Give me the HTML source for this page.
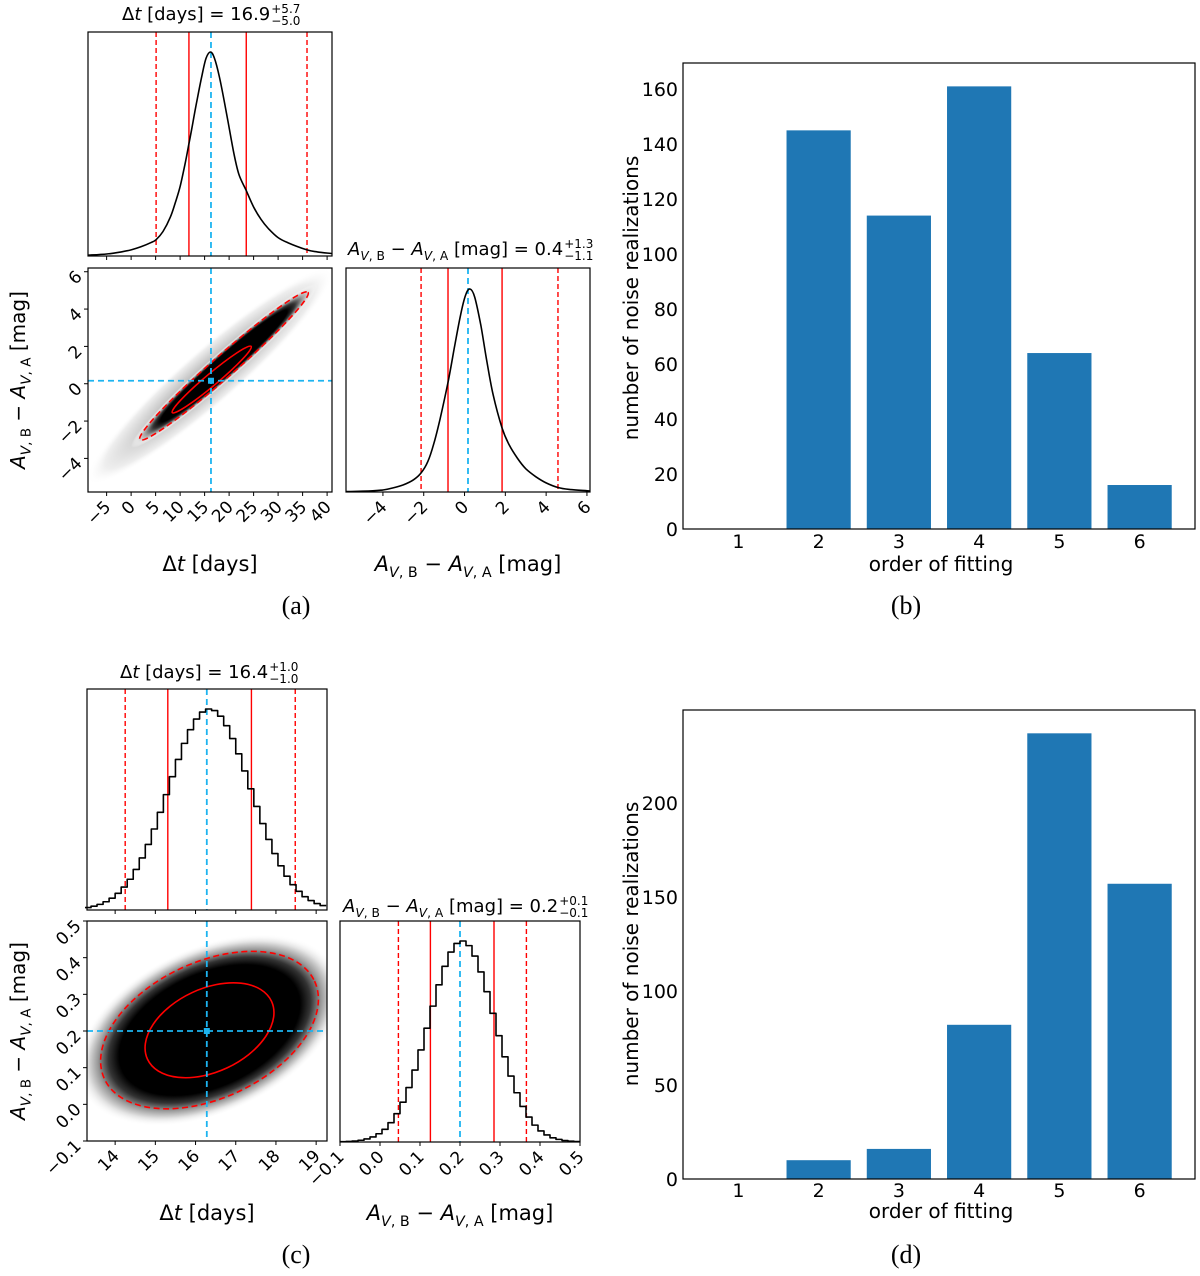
<!DOCTYPE html>
<html><head><meta charset="utf-8"><style>
html,body{margin:0;padding:0;background:#fff;}
svg{display:block;font-family:"DejaVu Sans","Liberation Sans",sans-serif;}
</style></head><body>
<svg id="fig" width="1200" height="1276" viewBox="0 0 1200 1276" xmlns="http://www.w3.org/2000/svg">
<defs>
<radialGradient id="dens" cx="0.5" cy="0.5" r="0.5">
<stop offset="0" stop-color="#000"/><stop offset="0.68" stop-color="#000"/><stop offset="0.76" stop-color="#333"/><stop offset="0.84" stop-color="#999"/><stop offset="0.92" stop-color="#e2e2e2"/><stop offset="1" stop-color="#fff" stop-opacity="0"/>
</radialGradient>
<radialGradient id="halo" cx="0.5" cy="0.5" r="0.5">
<stop offset="0" stop-color="#999"/><stop offset="0.5" stop-color="#c8c8c8"/><stop offset="0.85" stop-color="#eee"/><stop offset="1" stop-color="#fff" stop-opacity="0"/>
</radialGradient>
</defs>
</svg>
<script>
// ---- bar chart data ----
const barCats = [1, 2, 3, 4, 5, 6];
const barValsB = [0, 145, 114, 161, 64, 16];
const barValsD = [0, 10, 16, 82, 237, 157];
const ticksB = [0, 20, 40, 60, 80, 100, 120, 140, 160];
const ticksD = [0, 50, 100, 150, 200];
// ---- panel (a) data ----
const aDtX = [-8.8, -5, -2, 0, 2, 4, 5.1, 6.5, 8, 9, 10, 11, 11.8, 12.5, 13.5, 14.5, 15.3, 16.2, 17, 18, 19, 20, 21, 22, 23.5, 25, 26.5, 28, 30, 32, 35.9, 38, 41];
const aDtY = [0.004, 0.01, 0.02, 0.03, 0.045, 0.065, 0.08, 0.12, 0.19, 0.26, 0.34, 0.45, 0.55, 0.64, 0.77, 0.89, 0.97, 1.0, 0.97, 0.88, 0.76, 0.63, 0.5, 0.4, 0.32, 0.24, 0.18, 0.135, 0.09, 0.065, 0.03, 0.02, 0.012];
const aMagX = [-5.8, -4.5, -4, -3.5, -3, -2.5, -2.13, -1.8, -1.5, -1.2, -0.81, -0.5, -0.2, 0.05, 0.27, 0.5, 0.8, 1.1, 1.4, 1.84, 2.2, 2.6, 3, 3.5, 4, 4.58, 5.2, 6.15];
const aMagY = [0.002, 0.006, 0.01, 0.02, 0.035, 0.06, 0.094, 0.15, 0.24, 0.36, 0.54, 0.71, 0.87, 0.97, 1.0, 0.96, 0.82, 0.64, 0.48, 0.315, 0.23, 0.165, 0.115, 0.075, 0.045, 0.022, 0.012, 0.005];
const aDtQuant = [5.1, 11.8, 16.3, 23.5, 35.9];
const aMagQuant = [-2.13, -0.81, 0.17, 1.84, 4.58];
const aCenter = [16.3, 0.16];
const aOuter = [[1.8, -3.0], [36.1, 4.9]];
const aInner = [[8.4, -1.55], [24.5, 2.0]];
const aHalo = [[-8.8, -5.3], [41, 6.1]];
const aTicksDt = [-5, 0, 5, 10, 15, 20, 25, 30, 35, 40];
const aTicksMag = [-4, -2, 0, 2, 4, 6];
// ---- panel (c) data ----
const cDtStart = 13.25, cDtBin = 0.15;
const cDtHist = [0.012,0.019,0.028,0.041,0.059,0.083,0.114,0.153,0.202,0.259,0.326,0.403,0.486,0.574,0.663,0.749,0.829,0.897,0.950,0.985,1.0,0.992,0.964,0.917,0.853,0.777,0.692,0.603,0.515,0.430,0.351,0.281,0.220,0.168,0.126,0.093,0.066,0.047,0.032,0.022];
const cMagStart = -0.1, cMagBin = 0.015;
const cMagHist = [0.0014,0.0027,0.0049,0.0087,0.015,0.025,0.041,0.063,0.096,0.141,0.198,0.271,0.358,0.458,0.566,0.676,0.782,0.874,0.945,0.988,1.0,0.977,0.925,0.846,0.748,0.640,0.529,0.424,0.328,0.245,0.177,0.124,0.084,0.055,0.035,0.021,0.013,0.0072,0.004,0.002];
const cDtQuant = [14.25, 15.31, 16.28, 17.39, 18.48];
const cMagQuant = [0.046, 0.126, 0.2, 0.285, 0.366];
const cCenter = [16.28, 0.2];
const cOuter = [[13.735, 0.069], [18.96, 0.336]];
const cInner = [[14.805, 0.123], [17.89, 0.281]];
const cTicksDt = [14, 15, 16, 17, 18, 19];
const cTicksMag = [-0.1, 0, 0.1, 0.2, 0.3, 0.4, 0.5];

const NS = 'http://www.w3.org/2000/svg';
const svg = document.getElementById('fig');
function mk(tag, attrs, parent, name) {
  const el = document.createElementNS(NS, tag);
  for (const k in attrs) el.setAttribute(k, attrs[k]);
  
  
  (parent || svg).appendChild(el);
  return el;
}
function lin(d0, d1, p0, p1) { return v => p0 + (v - d0) / (d1 - d0) * (p1 - p0); }
function fmt(v) { return (v < 0 ? '\u2212' : '') + Math.abs(v); }
function fmt1(v) { return (v < 0 ? '\u2212' : '') + Math.abs(v).toFixed(1); }
const RED = '#ff0000', BLUE = '#1db4f0';

// ---- bar charts ----
function barChart(box, xlim, ylim, cats, vals, ticks, id, ylabY, xtY, xlabY) {
  const g = mk('g', {}, svg, 'bar-chart-' + id);
  const xs = lin(xlim[0], xlim[1], box.x0, box.x1);
  const ys = lin(ylim[0], ylim[1], box.y1, box.y0);
  cats.forEach((c, i) => {
    const x0 = xs(c - 0.4), x1 = xs(c + 0.4), y = ys(vals[i]);
    mk('rect', {x: x0, y: y, width: x1 - x0, height: Math.max(0, box.y1 - y), fill: '#1f77b4'}, g, 'bar-order-' + c);
    const t = mk('text', {x: xs(c), y: xtY, 'text-anchor': 'middle', 'font-size': 19}, g, 'x-tick-label');
    t.textContent = c;
  });
  ticks.forEach(v => {
    const t = mk('text', {x: box.x0 - 5, y: ys(v) + 7, 'text-anchor': 'end', 'font-size': 19}, g, 'y-tick-label');
    t.textContent = v;
  });
  mk('rect', {x: box.x0, y: box.y0, width: box.x1 - box.x0, height: box.y1 - box.y0, fill: 'none', stroke: '#000', 'stroke-width': 1.2}, g, 'plot-frame');
  const yl = mk('text', {transform: `translate(${box.x0 - 45},${ylabY}) rotate(-90)`, 'text-anchor': 'middle', 'font-size': 20}, g, 'y-axis-title');
  yl.textContent = 'number of noise realizations';
  const xl = mk('text', {x: 941, y: xlabY, 'text-anchor': 'middle', 'font-size': 20}, g, 'x-axis-title');
  xl.textContent = 'order of fitting';
}
barChart({x0: 683, x1: 1195, y0: 63, y1: 529}, [0.31, 6.69], [0, 169.5], barCats, barValsB, ticksB, 'b', 298, 548, 571);
barChart({x0: 683, x1: 1195, y0: 710, y1: 1179}, [0.31, 6.69], [0, 249.4], barCats, barValsD, ticksD, 'd', 944, 1197, 1218);

// ---- corner helpers ----
function frame(box, g) {
  mk('rect', {x: box.x0, y: box.y0, width: box.x1 - box.x0, height: box.y1 - box.y0, fill: 'none', stroke: '#000', 'stroke-width': 1.2}, g, 'plot-frame');
}
function vlines(box, xs, q, g) {
  q.forEach((v, i) => {
    const x = xs(v);
    const col = i === 2 ? BLUE : RED;
    const dash = (i === 0 || i === 4) ? '5,3' : (i === 2 ? '6,4' : 'none');
    mk('line', {x1: x, x2: x, y1: box.y0, y2: box.y1, stroke: col, 'stroke-width': i === 2 ? 1.8 : 1.4, 'stroke-dasharray': dash}, g, i === 2 ? 'median-line' : (dash === 'none' ? 'one-sigma-line' : 'two-sigma-line'));
  });
}
function xticks(box, xs, ticks, g, labels, f) {
  ticks.forEach(v => {
    const x = xs(v);
    mk('line', {x1: x, x2: x, y1: box.y1, y2: box.y1 + 4, stroke: '#000', 'stroke-width': 1}, g, 'x-tick');
    if (labels) {
      const t = mk('text', {x: x + 5, y: box.y1 + 16, 'text-anchor': 'end', 'font-size': 17, transform: `rotate(-45 ${x + 5} ${box.y1 + 16})`}, g, 'x-tick-label');
      t.textContent = f(v);
    }
  });
}
function yticks(box, ys, ticks, g, f) {
  ticks.forEach(v => {
    const y = ys(v);
    mk('line', {x1: box.x0 - 4, x2: box.x0, y1: y, y2: y, stroke: '#000', 'stroke-width': 1}, g, 'y-tick');
    const t = mk('text', {x: box.x0 - 5, y: y + 6, 'text-anchor': 'end', 'font-size': 17, transform: `rotate(-45 ${box.x0 - 5} ${y + 6})`}, g, 'y-tick-label');
    t.textContent = f(v);
  });
}
function magLabel(s) {
  const sub = s * 0.68, d = s * 0.28;
  return `<tspan font-style="italic">A</tspan><tspan font-size="${sub}" dy="${d}"><tspan font-style="italic">V</tspan>, B</tspan><tspan dy="${-d}"> \u2212 </tspan><tspan font-style="italic">A</tspan><tspan font-size="${sub}" dy="${d}"><tspan font-style="italic">V</tspan>, A</tspan><tspan dy="${-d}"> [mag]</tspan>`;
}
function title(g, x, y, html, sup, sub, name) {
  const t = mk('text', {x: x, y: y, 'font-size': 18}, g, name);
  t.innerHTML = html;
  const sx = x + t.getComputedTextLength() + 1;
  const a = mk('text', {x: sx, y: y - 7, 'font-size': 12}, g, name + '-upper-error');
  a.textContent = sup;
  const b = mk('text', {x: sx, y: y + 5, 'font-size': 12}, g, name + '-lower-error');
  b.textContent = sub;
}
function ellipseFromAxis(g, xs, ys, ends, minor, attrs, name) {
  const x1 = xs(ends[0][0]), y1 = ys(ends[0][1]), x2 = xs(ends[1][0]), y2 = ys(ends[1][1]);
  const cx = (x1 + x2) / 2, cy = (y1 + y2) / 2;
  const a = Math.hypot(x2 - x1, y2 - y1) / 2;
  const ang = Math.atan2(y2 - y1, x2 - x1) * 180 / Math.PI;
  const at = Object.assign({cx: cx, cy: cy, rx: a, ry: minor, transform: `rotate(${ang} ${cx} ${cy})`}, attrs);
  return mk('ellipse', at, g, name);
}
function corner(P) {
  const g = mk('g', {}, svg, 'corner-plot-' + P.id);
  const gt = mk('g', {}, g, 'delta-t-histogram');
  const xsT = lin(P.xlimT[0], P.xlimT[1], P.top.x0, P.top.x1);
  const fT = v => P.top.y1 - v * P.hT;
  vlines(P.top, xsT, P.qT, gt);
  mk('path', {d: P.pathT(xsT, fT), fill: 'none', stroke: '#000', 'stroke-width': 1.6, 'stroke-linejoin': 'round'}, gt, 'delta-t-curve');
  frame(P.top, gt);
  xticks(P.top, xsT, P.ticksT, gt, false);
  title(gt, P.tTitle[0], P.tTitle[1], '<tspan>\u0394</tspan><tspan font-style="italic">t</tspan> [days] = ' + P.tVal, P.tErr[0], P.tErr[1], 'delta-t-title');
  const gs = mk('g', {}, g, 'joint-density');
  const sb = P.sc;
  const ysS = lin(P.ylimS[0], P.ylimS[1], sb.y1, sb.y0);
  const cp = mk('clipPath', {id: 'clip' + P.id}, gs, 'clip');
  mk('rect', {x: sb.x0, y: sb.y0, width: sb.x1 - sb.x0, height: sb.y1 - sb.y0}, cp, 'clip-rect');
  const gi = mk('g', {'clip-path': `url(#clip${P.id})`}, gs, 'density-layer');
  if (P.halo) ellipseFromAxis(gi, xsT, ysS, P.halo, P.haloMinor, {fill: 'url(#halo)'}, 'density-halo');
  const core = ellipseFromAxis(gi, xsT, ysS, P.outer, P.outerMinor * P.densScale, {fill: 'url(#dens)'}, 'density-core');
  core.setAttribute('rx', parseFloat(core.getAttribute('rx')) * P.densMajor);
  ellipseFromAxis(gi, xsT, ysS, P.outer, P.outerMinor, {fill: 'none', stroke: RED, 'stroke-width': 1.6, 'stroke-dasharray': '6,3.5'}, 'two-sigma-contour');
  ellipseFromAxis(gi, xsT, ysS, P.inner, P.innerMinor, {fill: 'none', stroke: RED, 'stroke-width': 1.6}, 'one-sigma-contour');
  const cx = xsT(P.center[0]), cy = ysS(P.center[1]);
  mk('line', {x1: cx, x2: cx, y1: sb.y0, y2: sb.y1, stroke: BLUE, 'stroke-width': 1.8, 'stroke-dasharray': '6,4'}, gi, 'median-vertical-line');
  mk('line', {x1: sb.x0, x2: sb.x1, y1: cy, y2: cy, stroke: BLUE, 'stroke-width': 1.8, 'stroke-dasharray': '6,4'}, gi, 'median-horizontal-line');
  mk('rect', {x: cx - 3, y: cy - 3, width: 6, height: 6, fill: BLUE}, gi, 'median-marker');
  frame(sb, gs);
  xticks(sb, xsT, P.ticksT, gs, true, P.fmtT);
  yticks(sb, ysS, P.ticksM, gs, P.fmtM);
  const yl = mk('text', {transform: `translate(25,${(sb.y0 + sb.y1) / 2}) rotate(-90)`, 'text-anchor': 'middle', 'font-size': 20}, gs, 'y-axis-title');
  yl.innerHTML = magLabel(20);
  const xl = mk('text', {x: (sb.x0 + sb.x1) / 2, y: P.xlabY, 'text-anchor': 'middle', 'font-size': 21}, gs, 'x-axis-title');
  xl.innerHTML = '\u0394<tspan font-style="italic">t</tspan> [days]';
  const gr = mk('g', {}, g, 'magnitude-histogram');
  const rb = P.rt;
  const xsR = lin(P.xlimR[0], P.xlimR[1], rb.x0, rb.x1);
  const fR = v => rb.y1 - v * P.hR;
  vlines(rb, xsR, P.qR, gr);
  mk('path', {d: P.pathR(xsR, fR), fill: 'none', stroke: '#000', 'stroke-width': 1.6, 'stroke-linejoin': 'round'}, gr, 'magnitude-curve');
  frame(rb, gr);
  xticks(rb, xsR, P.ticksM, gr, true, P.fmtM);
  const xr = mk('text', {x: (rb.x0 + rb.x1) / 2, y: P.xlabY, 'text-anchor': 'middle', 'font-size': 21}, gr, 'x-axis-title');
  xr.innerHTML = magLabel(21);
  title(gr, P.rTitle[0], P.rTitle[1], magLabel(18) + ' = ' + P.rVal, P.rErr[0], P.rErr[1], 'magnitude-title');
  const pl = mk('text', {x: 296, y: P.labY, 'text-anchor': 'middle', 'font-size': 26, 'font-family': '"Liberation Serif",serif'}, g, 'panel-label');
  pl.textContent = '(' + P.id + ')';
}
function linePath(X, Y) {
  return (xs, f) => {
    const p = X.map((x, i) => [xs(x), f(Y[i])]);
    let d = 'M' + p[0][0].toFixed(1) + ' ' + p[0][1].toFixed(1);
    for (let i = 0; i < p.length - 1; i++) {
      const p0 = p[Math.max(0, i - 1)], p1 = p[i], p2 = p[i + 1], p3 = p[Math.min(p.length - 1, i + 2)];
      const c1 = [p1[0] + (p2[0] - p0[0]) / 6, p1[1] + (p2[1] - p0[1]) / 6];
      const c2 = [p2[0] - (p3[0] - p1[0]) / 6, p2[1] - (p3[1] - p1[1]) / 6];
      d += ` C${c1[0].toFixed(1)} ${c1[1].toFixed(1)} ${c2[0].toFixed(1)} ${c2[1].toFixed(1)} ${p2[0].toFixed(1)} ${p2[1].toFixed(1)}`;
    }
    return d;
  };
}
function stepPath(start, bin, H) {
  return (xs, f) => {
    let d = 'M' + xs(start) + ' ' + f(H[0]);
    H.forEach((h, i) => { d += ' L' + xs(start + i * bin) + ' ' + f(h) + ' L' + xs(start + (i + 1) * bin) + ' ' + f(h); });
    return d;
  };
}
corner({
  id: 'a',
  top: {x0: 88, x1: 332, y0: 32, y1: 256}, sc: {x0: 88, x1: 332, y0: 268, y1: 492}, rt: {x0: 346, x1: 590, y0: 268, y1: 492},
  xlimT: [-8.8, 41.0], ylimS: [-5.8, 6.2], xlimR: [-5.81, 6.15], hT: 204, hR: 203,
  pathT: linePath(aDtX, aDtY), pathR: linePath(aMagX, aMagY),
  qT: aDtQuant, qR: aMagQuant, ticksT: aTicksDt, ticksM: aTicksMag, fmtT: fmt, fmtM: fmt,
  center: aCenter, outer: aOuter, inner: aInner, outerMinor: 11, innerMinor: 6, halo: aHalo, haloMinor: 28,
  densScale: 1.25, densMajor: 1.1,
  tTitle: [122, 20], tVal: '16.9', tErr: ['+5.7', '\u22125.0'],
  rTitle: [348, 255], rVal: '0.4', rErr: ['+1.3', '\u22121.1'],
  xlabY: 571, labY: 614
});
corner({
  id: 'c',
  top: {x0: 87, x1: 327, y0: 689, y1: 910}, sc: {x0: 87, x1: 327, y0: 921, y1: 1141}, rt: {x0: 340, x1: 580, y0: 921, y1: 1142},
  xlimT: [13.3, 19.27], ylimS: [-0.1, 0.5], xlimR: [-0.1, 0.5], hT: 201, hR: 201,
  pathT: stepPath(cDtStart, cDtBin, cDtHist), pathR: stepPath(cMagStart, cMagBin, cMagHist),
  qT: cDtQuant, qR: cMagQuant, ticksT: cTicksDt, ticksM: cTicksMag, fmtT: fmt, fmtM: fmt1,
  center: cCenter, outer: cOuter, inner: cInner, outerMinor: 68, innerMinor: 41.5, halo: null,
  densScale: 1.22, densMajor: 1.22,
  tTitle: [120, 678], tVal: '16.4', tErr: ['+1.0', '\u22121.0'],
  rTitle: [343, 912], rVal: '0.2', rErr: ['+0.1', '\u22120.1'],
  xlabY: 1220, labY: 1263
});
const lb = mk('text', {x: 906, y: 614, 'text-anchor': 'middle', 'font-size': 26, 'font-family': '"Liberation Serif",serif'}, svg, 'panel-label');
lb.textContent = '(b)';
const ld = mk('text', {x: 906, y: 1263, 'text-anchor': 'middle', 'font-size': 26, 'font-family': '"Liberation Serif",serif'}, svg, 'panel-label');
ld.textContent = '(d)';
</script>
</body></html>
